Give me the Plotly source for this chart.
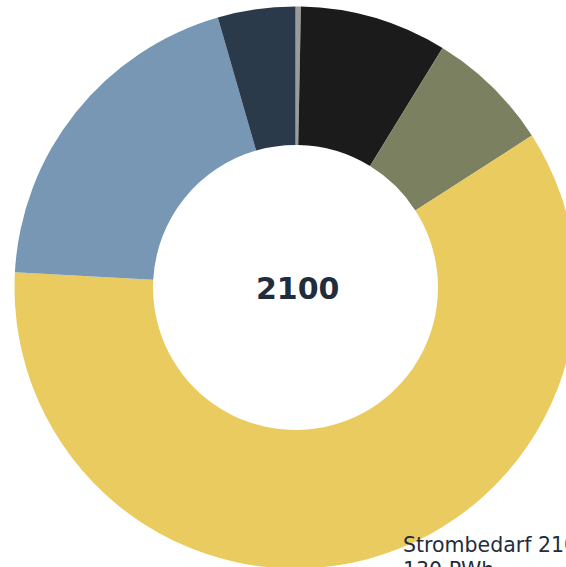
import plotly.graph_objects as go

W, H = 620, 620

labels = ["Sonstige", "Kohle", "Wasserkraft", "Solar", "Wind", "Kernkraft"]
values = [0.4, 11.0, 9.3, 78.0, 25.6, 5.8]
colors = ["#9b9b9b", "#1b1b1b", "#7b8160", "#e9cb5f", "#7897b5", "#2b3a4b"]

center_label = "2100"
note_lines = ["Strombedarf 2100:", "130 PWh"]

cx, cy, r = 295.5, 287.5, 281.0

fig = go.Figure(
    go.Pie(
        labels=labels,
        values=values,
        marker=dict(colors=colors, line=dict(width=0)),
        hole=0.507,
        sort=False,
        direction="clockwise",
        rotation=0,
        textinfo="none",
        hoverinfo="label+value",
        showlegend=False,
        domain=dict(x=[(cx - r) / W, (cx + r) / W], y=[1 - (cy + r) / H, 1 - (cy - r) / H]),
    )
)

fig.add_annotation(
    text=center_label, x=298 / W, y=1 - 288 / H, xref="paper", yref="paper",
    showarrow=False, xanchor="center", yanchor="middle",
    font=dict(family="DejaVu Sans", size=30, color="#1f2d3d", weight="bold"),
)
fig.add_annotation(
    text=note_lines[0], x=401 / W, y=1 - 545 / H, xref="paper", yref="paper",
    showarrow=False, xanchor="left", yanchor="middle",
    font=dict(family="DejaVu Sans", size=20.5, color="#1f2d3d"),
)
fig.add_annotation(
    text=note_lines[1], x=401 / W, y=1 - 570 / H, xref="paper", yref="paper",
    showarrow=False, xanchor="left", yanchor="middle",
    font=dict(family="DejaVu Sans", size=20.5, color="#1f2d3d"),
)

fig.update_layout(
    width=W, height=H,
    margin=dict(l=0, r=0, t=0, b=0),
    paper_bgcolor="white", plot_bgcolor="white",
)

fig.write_html(
    "out.html",
    post_script="document.body.style.margin='0';document.body.style.overflow='hidden';document.documentElement.style.overflow='hidden';",
)
